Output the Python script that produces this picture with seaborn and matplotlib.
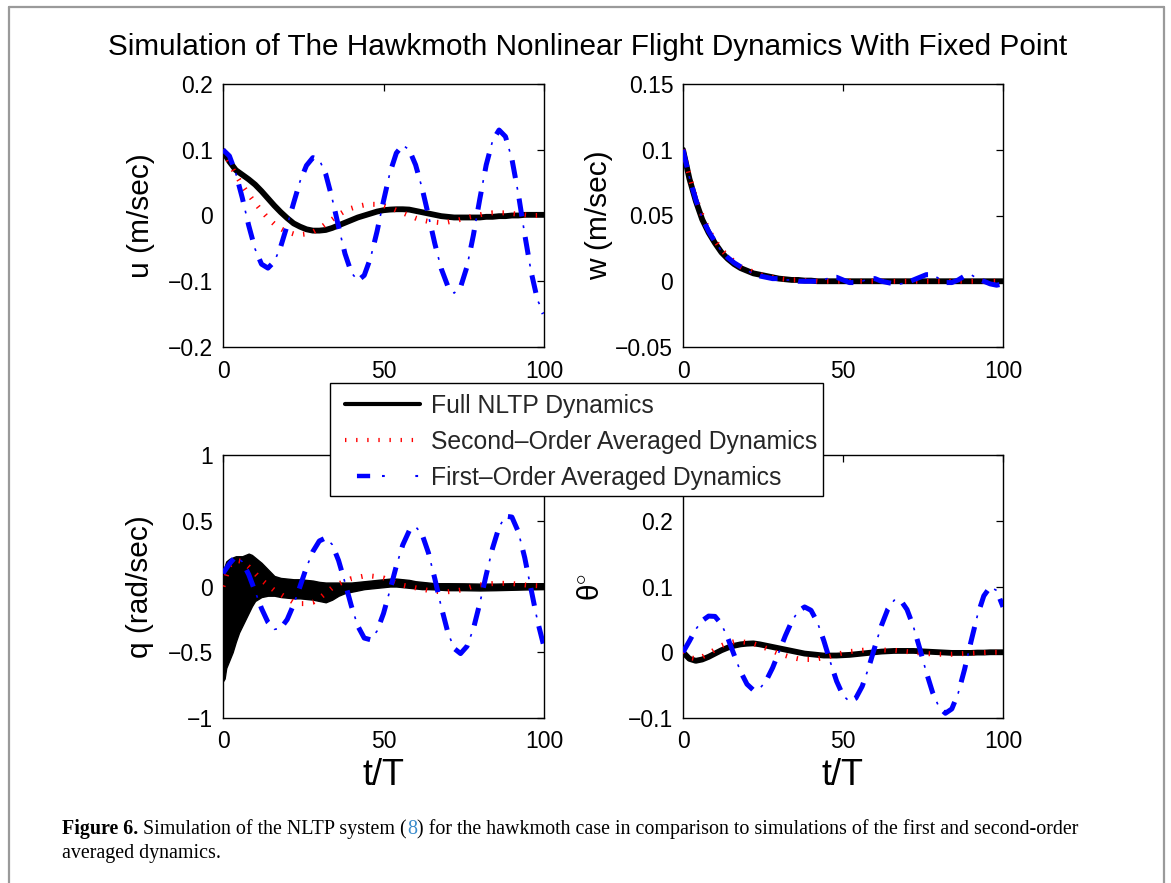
import numpy as np
import matplotlib
matplotlib.use("Agg")
import matplotlib.pyplot as plt
import seaborn as sns
from matplotlib.lines import Line2D
from matplotlib.patches import Rectangle
from matplotlib.legend_handler import HandlerTuple

# ---------------------------------------------------------------- data
# sample times t/T (every 2 wing beats)
t_grid = np.arange(0, 101, 2)

# u (m/sec)
u_full = [0.098, 0.082, 0.069, 0.062, 0.055, 0.047, 0.037, 0.026, 0.015, 0.005,
          -0.004, -0.012, -0.017, -0.021, -0.023, -0.023, -0.022, -0.019, -0.015, -0.011,
          -0.007, -0.003, 0.000, 0.003, 0.006, 0.008, 0.009, 0.0095, 0.0095, 0.009,
          0.007, 0.005, 0.003, 0.001, -0.001, -0.002, -0.003, -0.003, -0.003, -0.003,
          -0.003, -0.002, -0.002, -0.001, -0.001, 0.000, 0.000, 0.001, 0.001, 0.001, 0.001]
u_second = [0.100, 0.080, 0.062, 0.046, 0.032, 0.019, 0.007, -0.004, -0.013, -0.020,
            -0.025, -0.028, -0.029, -0.028, -0.025, -0.020, -0.013, -0.006, 0.001, 0.007,
            0.011, 0.014, 0.016, 0.017, 0.017, 0.015, 0.012, 0.008, 0.004, 0.000,
            -0.004, -0.007, -0.009, -0.010, -0.011, -0.010, -0.008, -0.006, -0.003, -0.001,
            0.001, 0.003, 0.004, 0.004, 0.004, 0.003, 0.002, 0.001, 0.000, 0.000, 0.000]
u_first = [0.100, 0.0905, 0.064, 0.027, -0.015, -0.051, -0.074, -0.080, -0.070, -0.047,
           -0.015, 0.019, 0.052, 0.076, 0.088, 0.085, 0.063, 0.026, -0.017, -0.058,
           -0.087, -0.099, -0.091, -0.064, -0.024, 0.022, 0.065, 0.095, 0.107, 0.100,
           0.077, 0.042, 0.000, -0.043, -0.081, -0.107, -0.118, -0.109, -0.078, -0.030,
           0.025, 0.077, 0.114, 0.130, 0.120, 0.086, 0.033, -0.029, -0.086, -0.129, -0.149]

# w (m/sec)
w_full = [0.100, 0.078, 0.061, 0.047, 0.037, 0.029, 0.022, 0.017, 0.013, 0.010,
          0.008, 0.006, 0.005, 0.004, 0.003, 0.002, 0.0015, 0.001, 0.001, 0.0005,
          0.0005, 0.000, 0.000, 0.000, 0.000, 0.000, 0.000, 0.000, 0.000, 0.000,
          0.000, 0.000, 0.000, 0.000, 0.000, 0.000, 0.000, 0.000, 0.000, 0.000,
          0.000, 0.000, 0.000, 0.000, 0.000, 0.000, 0.000, 0.000, 0.000, 0.000, 0.000]
w_second = [0.100, 0.080, 0.063, 0.050, 0.039, 0.031, 0.024, 0.019, 0.015, 0.011,
            0.009, 0.007, 0.005, 0.004, 0.003, 0.002, 0.0015, 0.001, 0.001, 0.0005,
            0.0005, 0.000, 0.000, 0.000, 0.000, 0.000, 0.000, 0.000, 0.000, 0.000,
            0.000, 0.000, 0.000, 0.000, 0.000, 0.000, 0.000, 0.000, 0.000, 0.000,
            0.000, 0.000, 0.000, 0.000, 0.000, 0.000, 0.000, 0.000, 0.000, 0.000, 0.000]
w_first = [0.100, 0.079, 0.062, 0.048, 0.038, 0.030, 0.023, 0.018, 0.014, 0.011,
           0.008, 0.006, 0.004, 0.003, 0.002, 0.002, 0.001, 0.001, 0.000, 0.000,
           0.000, 0.000, 0.001, 0.003, 0.003, 0.001, -0.001, -0.001, 0.000, 0.002,
           0.002, 0.000, -0.001, -0.002, -0.002, -0.001, 0.001, 0.003, 0.005, 0.005,
           0.002, -0.001, -0.001, 0.001, 0.004, 0.005, 0.002, 0.000, -0.002, -0.003, -0.002]

# q (rad/sec): the full system oscillates at the wing-beat frequency,
# so it is drawn as the band between its upper and lower envelopes
q_env_t = [0, 0.5, 1, 2, 3, 4, 5, 6, 7, 8, 9, 10, 12, 14, 16, 18, 20, 22, 24, 26,
           28, 30, 32, 34, 36, 38, 40, 42, 44, 46, 48, 50, 52, 54, 56, 58, 60, 62,
           64, 66, 70, 75, 80, 85, 90, 95, 100]
q_full_upper = [0.10, 0.15, 0.19, 0.21, 0.22, 0.23, 0.23, 0.23, 0.24, 0.25, 0.24, 0.22,
                0.18, 0.13, 0.08, 0.065, 0.06, 0.055, 0.055, 0.05, 0.045, 0.035, 0.03,
                0.03, 0.03, 0.03, 0.03, 0.035, 0.04, 0.045, 0.05, 0.055, 0.06, 0.06,
                0.055, 0.05, 0.04, 0.035, 0.03, 0.025, 0.025, 0.024, 0.022, 0.022,
                0.025, 0.025, 0.025]
q_full_lower = [-0.72, -0.70, -0.62, -0.56, -0.50, -0.42, -0.35, -0.30, -0.25, -0.20,
                -0.15, -0.11, -0.08, -0.07, -0.07, -0.08, -0.085, -0.09, -0.09, -0.095,
                -0.10, -0.11, -0.12, -0.10, -0.07, -0.05, -0.04, -0.03, -0.02, -0.015,
                -0.01, -0.005, 0.00, 0.00, -0.005, -0.01, -0.015, -0.02, -0.02, -0.022,
                -0.028, -0.028, -0.03, -0.028, -0.025, -0.022, -0.02]
q_second = [0.00, 0.16, 0.20, 0.19, 0.15, 0.10, 0.05, 0.01, -0.03, -0.06,
            -0.09, -0.12, -0.13, -0.13, -0.12, -0.09, -0.05, -0.01, 0.02, 0.04,
            0.06, 0.07, 0.08, 0.08, 0.075, 0.065, 0.045, 0.025, 0.01, 0.00,
            -0.01, -0.02, -0.03, -0.037, -0.04, -0.04, -0.035, -0.027, -0.012, 0.003,
            0.012, 0.018, 0.022, 0.024, 0.024, 0.022, 0.018, 0.012, 0.008, 0.006, 0.005]
q_first = [0.10, 0.173, 0.229, 0.188, 0.092, -0.037, -0.167, -0.272, -0.326, -0.317,
           -0.251, -0.138, 0.001, 0.145, 0.266, 0.346, 0.370, 0.320, 0.198, 0.030,
           -0.149, -0.301, -0.392, -0.405, -0.338, -0.205, -0.029, 0.156, 0.316, 0.423,
           0.455, 0.398, 0.256, 0.058, -0.156, -0.345, -0.471, -0.510, -0.455, -0.322,
           -0.128, 0.089, 0.293, 0.452, 0.535, 0.528, 0.416, 0.219, -0.024, -0.265, -0.459]

# theta (deg)
th_full = [0.000, -0.010, -0.013, -0.011, -0.007, -0.002, 0.003, 0.007, 0.010, 0.012,
           0.013, 0.0135, 0.012, 0.010, 0.008, 0.006, 0.004, 0.002, 0.000, -0.002,
           -0.003, -0.004, -0.005, -0.005, -0.005, -0.0045, -0.004, -0.003, -0.002, -0.001,
           0.000, 0.001, 0.0015, 0.002, 0.002, 0.002, 0.002, 0.0015, 0.001, 0.0005,
           0.000, -0.0005, -0.001, -0.001, -0.001, -0.001, -0.0005, -0.0005, 0.000, 0.000, 0.000]
th_second = [0.000, -0.008, -0.010, -0.007, -0.002, 0.004, 0.010, 0.014, 0.016, 0.016,
             0.015, 0.013, 0.010, 0.006, 0.002, -0.002, -0.005, -0.008, -0.010, -0.011,
             -0.011, -0.010, -0.008, -0.006, -0.003, -0.001, 0.001, 0.002, 0.003, 0.0035,
             0.0035, 0.0035, 0.003, 0.003, 0.002, 0.001, 0.000, -0.001, -0.002, -0.0025,
             -0.003, -0.003, -0.003, -0.0025, -0.002, -0.0015, -0.001, -0.0005, 0.000, 0.000, 0.000]
th_first = [0.000, 0.017, 0.035, 0.048, 0.055, 0.0545, 0.0427, 0.0216, -0.0043, -0.0295,
            -0.0486, -0.0576, -0.0552, -0.0432, -0.0237, 0.0005, 0.0253, 0.0471, 0.0624, 0.0689,
            0.0638, 0.0456, 0.0177, -0.0142, -0.044, -0.0656, -0.0749, -0.0699, -0.0518, -0.0238,
            0.0089, 0.0405, 0.0655, 0.0792, 0.0792, 0.065, 0.0391, 0.0054, -0.0298, -0.0612,
            -0.0835, -0.0928, -0.0862, -0.0623, -0.0258, 0.0162, 0.0558, 0.0857, 0.0994, 0.094, 0.069]

series_labels = ["Full NLTP Dynamics", "Second\u2013Order Averaged Dynamics",
                 "First\u2013Order Averaged Dynamics"]
y_labels = ["u (m/sec)", "w (m/sec)", "q (rad/sec)", "\u03b8$^{\\circ}$"]
y_limits = [(-0.2, 0.2), (-0.05, 0.15), (-1, 1), (-0.1, 0.3)]
y_ticklabels = [["\u22120.2", "\u22120.1", "0", "0.1", "0.2"],
                ["\u22120.05", "0", "0.05", "0.1", "0.15"],
                ["\u22121", "\u22120.5", "0", "0.5", "1"],
                ["\u22120.1", "0", "0.1", "0.2", ""]]
x_ticks = [0, 50, 100]

# ---------------------------------------------------------------- style
sns.set_style("white")
plt.rcParams["font.family"] = ["Liberation Sans", "DejaVu Sans"]
plt.rcParams["mathtext.fontset"] = "custom"
plt.rcParams["mathtext.rm"] = "Liberation Sans"
plt.rcParams["mathtext.it"] = "Liberation Sans:italic"
plt.rcParams["lines.scale_dashes"] = False
plt.rcParams["axes.unicode_minus"] = True

W, H = 1171, 883
fig = plt.figure(figsize=(W / 100, H / 100), dpi=100)
fig.patch.set_facecolor("white")

BLACK = "#000000"
RED = "#ff0000"
BLUE = "#0000ff"
RED_DOTS = (0, (1.0, 7.0))


def px_axes(left, top, right, bottom):
    return fig.add_axes([left / W, 1 - bottom / H, (right - left) / W, (bottom - top) / H])


axes = [px_axes(223, 84, 544, 347), px_axes(683, 84, 1003, 347),
        px_axes(223, 455, 544, 718), px_axes(683, 455, 1003, 718)]

panels = [(u_full, u_second, u_first), (w_full, w_second, w_first),
          (None, q_second, q_first), (th_full, th_second, th_first)]


def draw_first_order(ax, y):
    # dash-dot: thick dashes with a thin dot centred in each gap
    sns.lineplot(x=t_grid, y=y, ax=ax, color=BLUE, lw=3.6,
                 linestyle=(0, (13, 15)), dash_capstyle="butt", zorder=4)
    sns.lineplot(x=t_grid, y=y, ax=ax, color=BLUE, lw=1.2,
                 linestyle=(8.5, (2, 26)), dash_capstyle="butt", zorder=4)


for i, (ax, (full, second, first)) in enumerate(zip(axes, panels)):
    if full is None:
        ax.fill_between(q_env_t, q_full_lower, q_full_upper, color=BLACK, lw=1.0, zorder=2)
    else:
        sns.lineplot(x=t_grid, y=full, ax=ax, color=BLACK, lw=4.2,
                     solid_capstyle="round", solid_joinstyle="round", zorder=2)
    sns.lineplot(x=t_grid, y=second, ax=ax, color=RED, lw=3.6,
                 linestyle=RED_DOTS, dash_capstyle="butt", zorder=3)
    draw_first_order(ax, first)

    lo, hi = y_limits[i]
    ax.set_xlim(0, 100)
    ax.set_ylim(lo, hi)
    ax.set_xticks(x_ticks)
    ax.set_xticklabels([str(v) for v in x_ticks])
    ax.set_yticks(np.linspace(lo, hi, 5))
    ax.set_yticklabels(y_ticklabels[i])
    ax.tick_params(direction="in", top=True, right=True, length=5, width=0.9,
                   labelsize=16.5, colors="black")
    ax.tick_params(axis="y", pad=7)
    ax.tick_params(axis="x", pad=9)
    for s in ax.spines.values():
        s.set_color("black")
        s.set_linewidth(1.0)
    ax.set_facecolor("white")
    ax.set_ylabel(y_labels[i], fontsize=21.5, color="black")
    ax.set_xlabel("")

axes[0].yaxis.set_label_coords(-0.212, 0.5)
axes[1].yaxis.set_label_coords(-0.219, 0.5)
axes[2].yaxis.set_label_coords(-0.215, 0.5)
axes[3].yaxis.set_label_coords(-0.245, 0.5)
for ax in axes[2:]:
    ax.set_xlabel("t/T", fontsize=26, color="black")
    ax.xaxis.set_label_coords(0.5, -0.152)

# ---------------------------------------------------------------- legend
# box drawn separately so its padding can be uneven
fig.add_artist(Rectangle((330 / W, 1 - 496 / H), (823 - 330) / W, (496 - 383) / H,
                         transform=fig.transFigure, facecolor="white",
                         edgecolor="black", lw=1.0, zorder=9))
h_full = Line2D([], [], color=BLACK, lw=3.0)
h_second = Line2D([], [], color=RED, lw=3.0, linestyle=RED_DOTS, dash_capstyle="butt")
h_first_dash = Line2D([], [], color=BLUE, lw=3.2, linestyle=(15.4, (9.5, 14.5)), dash_capstyle="butt")
h_first_dot = Line2D([], [], color=BLUE, lw=1.5, linestyle=(0, (2.0, 22.0)), dash_capstyle="butt")
leg = fig.legend(handles=[h_full, h_second, (h_first_dash, h_first_dot)],
                 labels=series_labels,
                 handler_map={tuple: HandlerTuple(ndivide=None, pad=0)},
                 loc="upper left", bbox_to_anchor=(345 / W, 1 - 394 / H),
                 frameon=False, fontsize=17.8,
                 handlelength=3.03, handletextpad=0.45, borderpad=0.0,
                 labelspacing=0.48, borderaxespad=0)
leg.set_zorder(10)

# ---------------------------------------------------------------- title
fig.text(587.5 / W, 1 - 55 / H,
         "Simulation of The Hawkmoth Nonlinear Flight Dynamics With Fixed Point",
         ha="center", va="baseline", fontsize=21.4, color="black")

# ---------------------------------------------------------------- frame around the figure
frame_kw = dict(color="#9a9a9a", lw=1.6, transform=fig.transFigure, clip_on=False)
fig.add_artist(Line2D([9 / W, 9 / W], [0, 1 - 7 / H], **frame_kw))
fig.add_artist(Line2D([9 / W, 1164 / W], [1 - 7 / H, 1 - 7 / H], **frame_kw))
fig.add_artist(Line2D([1164 / W, 1164 / W], [0, 1 - 7 / H], **frame_kw))

# ---------------------------------------------------------------- caption
caption_runs = [
    [("Figure 6.", dict(weight="bold", color="black")),
     (" Simulation of the NLTP system (", dict(color="black")),
     ("8", dict(color="#3b8ccc")),
     (") for the hawkmoth case in comparison to simulations of the first and second-order",
      dict(color="black"))],
    [("averaged dynamics.", dict(color="black"))],
]
caption_baselines = [834, 858]
renderer = fig.canvas.get_renderer()
for runs, base in zip(caption_runs, caption_baselines):
    x = 62
    for txt, kw in runs:
        tt = fig.text(x / W, 1 - base / H, txt, fontsize=14.4,
                      family=["Liberation Serif", "DejaVu Serif"], va="baseline", **kw)
        x += tt.get_window_extent(renderer=renderer).width

fig.savefig("out.png", dpi=100, facecolor="white")
